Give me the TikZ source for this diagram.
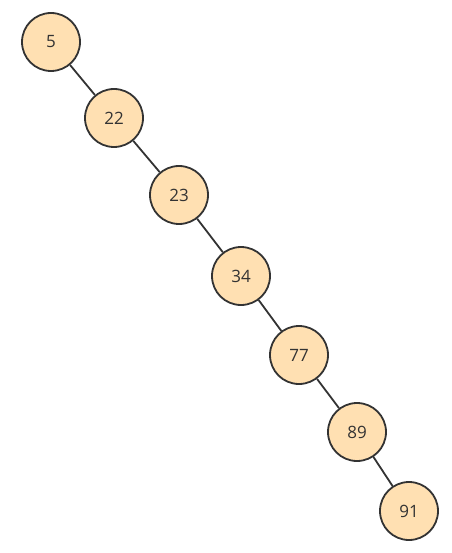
\documentclass[tikz,border=0pt]{standalone}
\usepackage{fontspec}
\setmainfont{Open Sans}
\definecolor{nodefill}{HTML}{FFE0B2}
\definecolor{nodeline}{HTML}{333333}
\begin{document}
\begin{tikzpicture}[x=1pt,y=-1pt,
  treenode/.style={circle,draw=nodeline,fill=nodefill,line width=1.8pt,minimum size=58pt,inner sep=0pt,font=\fontsize{17}{20}\selectfont,text=nodeline},
  edge/.style={draw=nodeline,line width=1.8pt}]
\useasboundingbox (0,0) rectangle (451,553);
\node[treenode] (n5) at (51,42) {5};
\node[treenode] (n22) at (114,118) {22};
\node[treenode] (n23) at (179,195) {23};
\node[treenode] (n34) at (241,276) {34};
\node[treenode] (n77) at (299,355) {77};
\node[treenode] (n89) at (357,432) {89};
\node[treenode] (n91) at (409,511) {91};
\draw[edge] (n5) -- (n22);
\draw[edge] (n22) -- (n23);
\draw[edge] (n23) -- (n34);
\draw[edge] (n34) -- (n77);
\draw[edge] (n77) -- (n89);
\draw[edge] (n89) -- (n91);
\end{tikzpicture}
\end{document}
